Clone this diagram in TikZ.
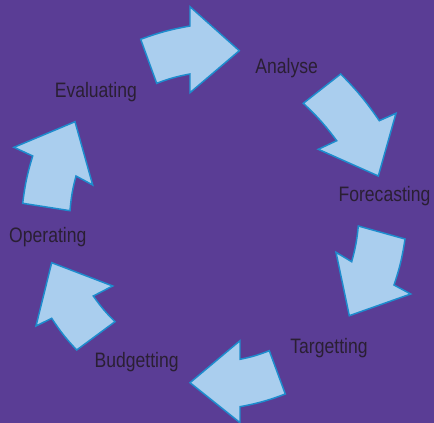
\documentclass[tikz,border=0pt]{standalone}
\usepackage{fontspec}
\setmainfont{Liberation Sans}[FakeStretch=0.84]
\definecolor{bgpurple}{HTML}{5A3D95}
\definecolor{arrowfill}{HTML}{AACEEE}
\definecolor{arrowline}{HTML}{1E8CCD}
\definecolor{labeltext}{HTML}{2A1F33}
\tikzset{
  cyclearrow/.style={fill=arrowfill, draw=arrowline, line width=0.85pt, line join=miter},
  steplabel/.style={text=labeltext, font=\fontsize{11.9}{14}\selectfont, inner sep=0pt, anchor=base}
}
\begin{document}
\begin{tikzpicture}[x=0.02cm, y=-0.02cm]
\useasboundingbox (0,0) rectangle (434,423);
\fill[bgpurple] (0,0) rectangle (434,423);
\node[steplabel] (L_0) at (286.7,73.3) {Analyse};
\node[steplabel] (L_1) at (384.5,201.7) {Forecasting};
\node[steplabel] (L_2) at (329,353.7) {Targetting};
\node[steplabel] (L_3) at (136.7,367.7) {Budgetting};
\node[steplabel] (L_4) at (47.8,242.7) {Operating};
\node[steplabel] (L_5) at (95.8,97.7) {Evaluating};
\draw[cyclearrow] (140.7,39.3) to[bend left=5] (190,26) -- (190,6.7) -- (239.3,50.7)
  -- (190,92.7) -- (190,74) to[bend right=5] (156.7,83.3) -- cycle;
\draw[cyclearrow] (340.7,74) to[bend left=5] (379.3,120.7) -- (396,113.3) -- (378.3,176)
  -- (318.3,149.3) -- (336.7,140.7) to[bend right=5] (303.3,103.3) -- cycle;
\draw[cyclearrow] (405,239) to[bend left=5] (394,285) -- (410.7,294) -- (349.3,315.7)
  -- (336,252.3) -- (351.7,261.7) to[bend right=5] (358.3,226) -- cycle;
\draw[cyclearrow] (285.3,394) to[bend left=5] (240,406.7) -- (240,422.7) -- (190,382.7)
  -- (240,340.7) -- (240,359.3) to[bend right=5] (269.3,350.7) -- cycle;
\draw[cyclearrow] (76.7,350) to[bend left=5] (51.7,318.3) -- (36,326) -- (51.7,262.7)
  -- (112.7,286) -- (93.3,296) to[bend right=5] (115,321.7) -- cycle;
\draw[cyclearrow] (22.7,203.3) to[bend left=5] (32.7,156) -- (14,147.3) -- (75,121.7)
  -- (92.7,185) -- (76,176) to[bend right=5] (70,210.7) -- cycle;
\end{tikzpicture}
\end{document}
